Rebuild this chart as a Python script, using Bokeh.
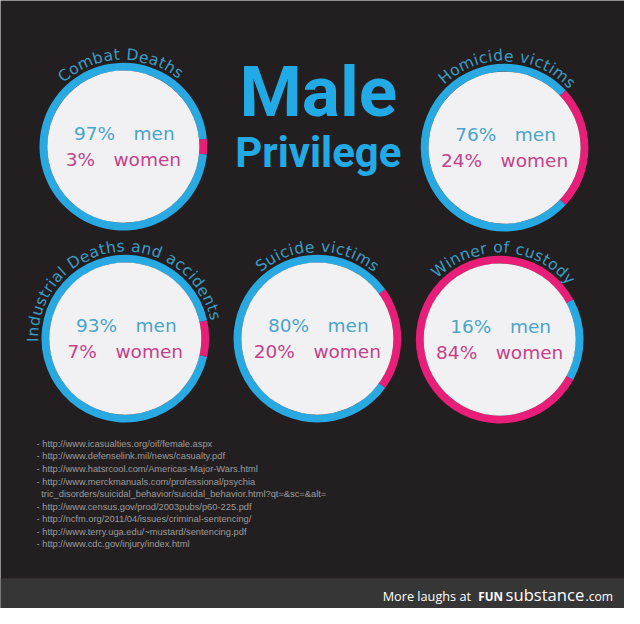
import math
from bokeh.plotting import figure
from bokeh.models import Range1d, ColumnDataSource
from bokeh.core.properties import value
from bokeh.embed import file_html
from bokeh.resources import INLINE

# ---------------- data ----------------
categories = ["Combat Deaths", "Homicide victims", "Industrial Deaths and accidents",
              "Suicide victims", "Winner of custody"]
men_pct = [97, 76, 93, 80, 16]
women_pct = [3, 24, 7, 20, 84]
title_lines = ["Male", "Privilege"]
sources = [
    "- http://www.icasualties.org/oif/female.aspx",
    "- http://www.defenselink.mil/news/casualty.pdf",
    "- http://www.hatsrcool.com/Americas-Major-Wars.html",
    "- http://www.merckmanuals.com/professional/psychia",
    "  tric_disorders/suicidal_behavior/suicidal_behavior.html?qt=&sc=&alt=",
    "- http://www.census.gov/prod/2003pubs/p60-225.pdf",
    "- http://ncfm.org/2011/04/issues/criminal-sentencing/",
    "- http://www.terry.uga.edu/~mustard/sentencing.pdf",
    "- http://www.cdc.gov/injury/index.html",
]
footer_parts = ["More laughs at", "FUN", "substance", ".com"]

# ---------------- layout / style ----------------
IMG_W, IMG_H = 640, 624
S = 624 / 640.0
BG = "#231f20"
BAR = "#363636"
BLUE = "#29a9e1"
PINK = "#e91e78"
DISC = "#f1f1f3"
MEN_TXT = "#4aa5c6"
WOMEN_TXT = "#c4428a"
ARC_TXT = "#3b9cc2"
TITLE = "#22aae6"

centers = [(126, 150), (517, 151), (128, 347), (325, 347), (512, 348)]
label_mid_deg = [92, 88, 97, 90, 87]
R_OUT, R_IN, R_TXT = 86, 78, 94.5


def Y(y):
    return IMG_H - y


def fs(px):
    return f"{px * S:.1f}px"


p = figure(width=624, height=608, x_range=Range1d(0, IMG_W), y_range=Range1d(0, IMG_H),
           output_backend="svg", toolbar_location=None, min_border=0,
           x_axis_location=None, y_axis_location=None,
           background_fill_color=BG, border_fill_color=BG, outline_line_color=None)
p.grid.visible = False

# footer bar
p.quad(left=[0], right=[IMG_W], bottom=[0], top=[Y(593)], fill_color=BAR, line_color=None)

# rings
wx, wy, ws, we, wc = [], [], [], [], []
for (cx, cy), m, w in zip(centers, men_pct, women_pct):
    if w <= m:
        minor, c_minor, c_major = w, PINK, BLUE
    else:
        minor, c_minor, c_major = m, BLUE, PINK
    h = minor / 100.0 * math.pi
    wx += [cx, cx]
    wy += [Y(cy), Y(cy)]
    ws += [-h, h]
    we += [h, 2 * math.pi - h]
    wc += [c_minor, c_major]
p.annular_wedge(x="x", y="y", inner_radius=R_IN, outer_radius=R_OUT, start_angle="s",
                end_angle="e", fill_color="c", line_color=None,
                source=ColumnDataSource(dict(x=wx, y=wy, s=ws, e=we, c=wc)))
p.circle(x=[c[0] for c in centers], y=[Y(c[1]) for c in centers], radius=R_IN,
         fill_color=DISC, line_color=None)

# percentages
p.text(x=[c[0] + 1 for c in centers], y=[Y(c[1] - 13) for c in centers],
       text=[f"{m}%\u2003men" for m in men_pct], text_color=MEN_TXT,
       text_font=value("DejaVu Sans"), text_font_size=fs(19),
       text_align="center", text_baseline="middle")
p.text(x=[c[0] for c in centers], y=[Y(c[1] + 13) for c in centers],
       text=[f"{w}%\u2003women" for w in women_pct], text_color=WOMEN_TXT,
       text_font=value("DejaVu Sans"), text_font_size=fs(19),
       text_align="center", text_baseline="middle")

# curved labels (DejaVu Sans advance widths, em units)
WID = {" ": .318, "a": .613, "b": .635, "c": .550, "d": .635, "e": .615, "f": .352,
       "g": .635, "h": .634, "i": .278, "l": .278, "m": .974, "n": .634, "o": .612,
       "r": .411, "s": .521, "t": .392, "u": .634, "v": .592, "w": .818, "y": .592,
       "C": .698, "D": .770, "H": .752, "I": .295, "S": .635, "W": .989}
ARC_FS = 16.0
TRACK = 0.9
ax, ay, at, aa = [], [], [], []
for (cx, cy), lab, mid in zip(centers, categories, label_mid_deg):
    ws_ = [WID.get(ch, .6) * ARC_FS + TRACK for ch in lab]
    total = sum(ws_) - TRACK
    th0 = math.radians(mid) + (total / 2) / R_TXT
    cum = 0.0
    for ch, wdt in zip(lab, ws_):
        cw = wdt - TRACK
        th = th0 - (cum + cw / 2) / R_TXT
        cum += wdt
        if ch == " ":
            continue
        ax.append(cx + R_TXT * math.cos(th))
        ay.append(Y(cy) + R_TXT * math.sin(th))
        at.append(ch)
        aa.append(th - math.pi / 2)
p.text(x="x", y="y", text="t", angle="a", source=ColumnDataSource(dict(x=ax, y=ay, t=at, a=aa)),
       text_color=ARC_TXT, text_font=value("DejaVu Sans"), text_font_size=fs(ARC_FS),
       text_align="center", text_baseline="middle")

# title
p.text(x=[326], y=[Y(93)], text=[title_lines[0]], text_color=TITLE,
       text_font=value("Roboto"), text_font_style="bold",
       text_font_size=fs(73), text_align="center", text_baseline="middle")
p.text(x=[326], y=[Y(156)], text=[title_lines[1]], text_color=TITLE,
       text_font=value("Roboto"), text_font_style="bold",
       text_font_size=fs(43), text_align="center", text_baseline="middle")

# sources
p.text(x=[37] * len(sources), y=[Y(455 + 12.9 * i) for i in range(len(sources))],
       text=[s.replace("  ", "\u2002") for s in sources], text_color="#9c9c9c",
       text_font=value("Liberation Sans"), text_font_size=fs(9.5),
       text_align="left", text_baseline="middle")

# footer text
p.text(x=[392], y=[Y(611)], text=[footer_parts[0]], text_color="#ffffff",
       text_font=value("Open Sans"), text_font_size=fs(13), text_baseline="middle")
p.text(x=[490], y=[Y(611.5)], text=[footer_parts[1]], text_color="#ffffff",
       text_font=value("Open Sans"), text_font_style="bold", text_font_size=fs(12),
       text_baseline="middle")
p.text(x=[518], y=[Y(610)], text=[footer_parts[2]], text_color="#ffffff",
       text_font=value("Open Sans"), text_font_size=fs(17), text_baseline="middle")
p.text(x=[600], y=[Y(611.5)], text=[footer_parts[3]], text_color="#ffffff",
       text_font=value("Open Sans"), text_font_size=fs(12.5), text_baseline="middle")

open("out.html", "w").write(file_html(p, INLINE))
